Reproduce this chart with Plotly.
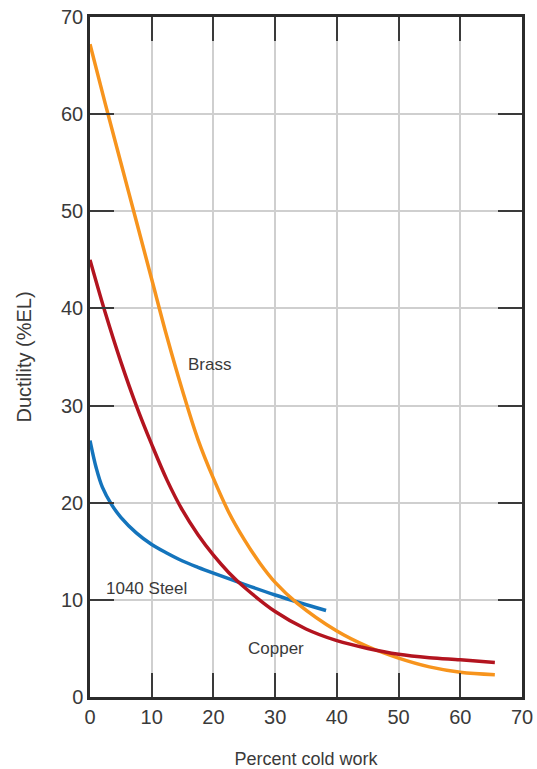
import plotly.graph_objects as go

# Data
brass_x = [0, 2.5, 5, 7.5, 10, 12.5, 15, 17.5, 20, 22.5, 25, 27.5, 30, 33.5, 40, 45, 50, 55, 60, 65.6]
brass_y = [67.2, 61, 55, 49, 43, 37, 31.5, 26.5, 22.5, 19, 16.2, 13.8, 11.8, 9.7, 6.8, 5.2, 4.0, 3.1, 2.55, 2.3]

copper_x = [0, 2.5, 5, 7.5, 10, 12.5, 15, 17.5, 20, 22.5, 25, 30, 35, 40, 45, 50, 55, 60, 65.6]
copper_y = [45, 39.5, 34.5, 30, 26, 22.3, 19.2, 16.7, 14.6, 12.8, 11.3, 8.8, 7.0, 5.8, 5.0, 4.4, 4.05, 3.83, 3.56]

steel_x = [0, 1, 2, 3.5, 5, 7.5, 10, 12.5, 15, 17.5, 20, 25, 30, 34, 38.25]
steel_y = [26.4, 23.6, 21.6, 19.8, 18.5, 16.9, 15.7, 14.8, 14.0, 13.35, 12.75, 11.6, 10.5, 9.7, 8.9]

series_names = ["Brass", "Copper", "1040 Steel"]
label_pos = {"Brass": (19.4, 34.2), "1040 Steel": (9.1, 11.2), "Copper": (30.1, 5.0)}
tick_vals = [0, 10, 20, 30, 40, 50, 60, 70]

FONT = "Liberation Sans Narrow, Arial Narrow, Liberation Sans, Arial, sans-serif"
TXT = "#3a3a3a"

fig = go.Figure()
fig.add_trace(go.Scatter(x=steel_x, y=steel_y, mode="lines", line=dict(color="#1474BC", width=3.5, shape="spline"), name="1040 Steel"))
fig.add_trace(go.Scatter(x=brass_x, y=brass_y, mode="lines", line=dict(color="#F7941D", width=3.5, shape="spline"), name="Brass"))
fig.add_trace(go.Scatter(x=copper_x, y=copper_y, mode="lines", line=dict(color="#B3141F", width=3.5, shape="spline"), name="Copper"))

for name in series_names:
    lx, ly = label_pos[name]
    fig.add_annotation(x=lx, y=ly, text=name, showarrow=False,
                       font=dict(family=FONT, size=17, color=TXT))

axis_common = dict(
    range=[0, 70], tickvals=tick_vals, showgrid=True, gridcolor="#CFCFCF", gridwidth=1.5,
    showline=True, linecolor="#2b2b2b", linewidth=2.5, mirror="ticks",
    ticks="inside", ticklen=24, tickwidth=1.5, tickcolor="#3a3a3a",
    zeroline=False, tickfont=dict(family=FONT, size=20, color=TXT),
    fixedrange=True, automargin=False,
)

fig.update_xaxes(**axis_common, title=dict(text="Percent cold work", font=dict(family=FONT, size=18, color=TXT), standoff=29))
fig.update_yaxes(**axis_common, title=dict(text="Ductility (%EL)", font=dict(family=FONT, size=20, color=TXT), standoff=25))

fig.update_layout(
    width=537, height=769, showlegend=False,
    margin=dict(l=90, r=15, t=17, b=72),
    plot_bgcolor="white", paper_bgcolor="white",
)

fig.write_html("out.html")
